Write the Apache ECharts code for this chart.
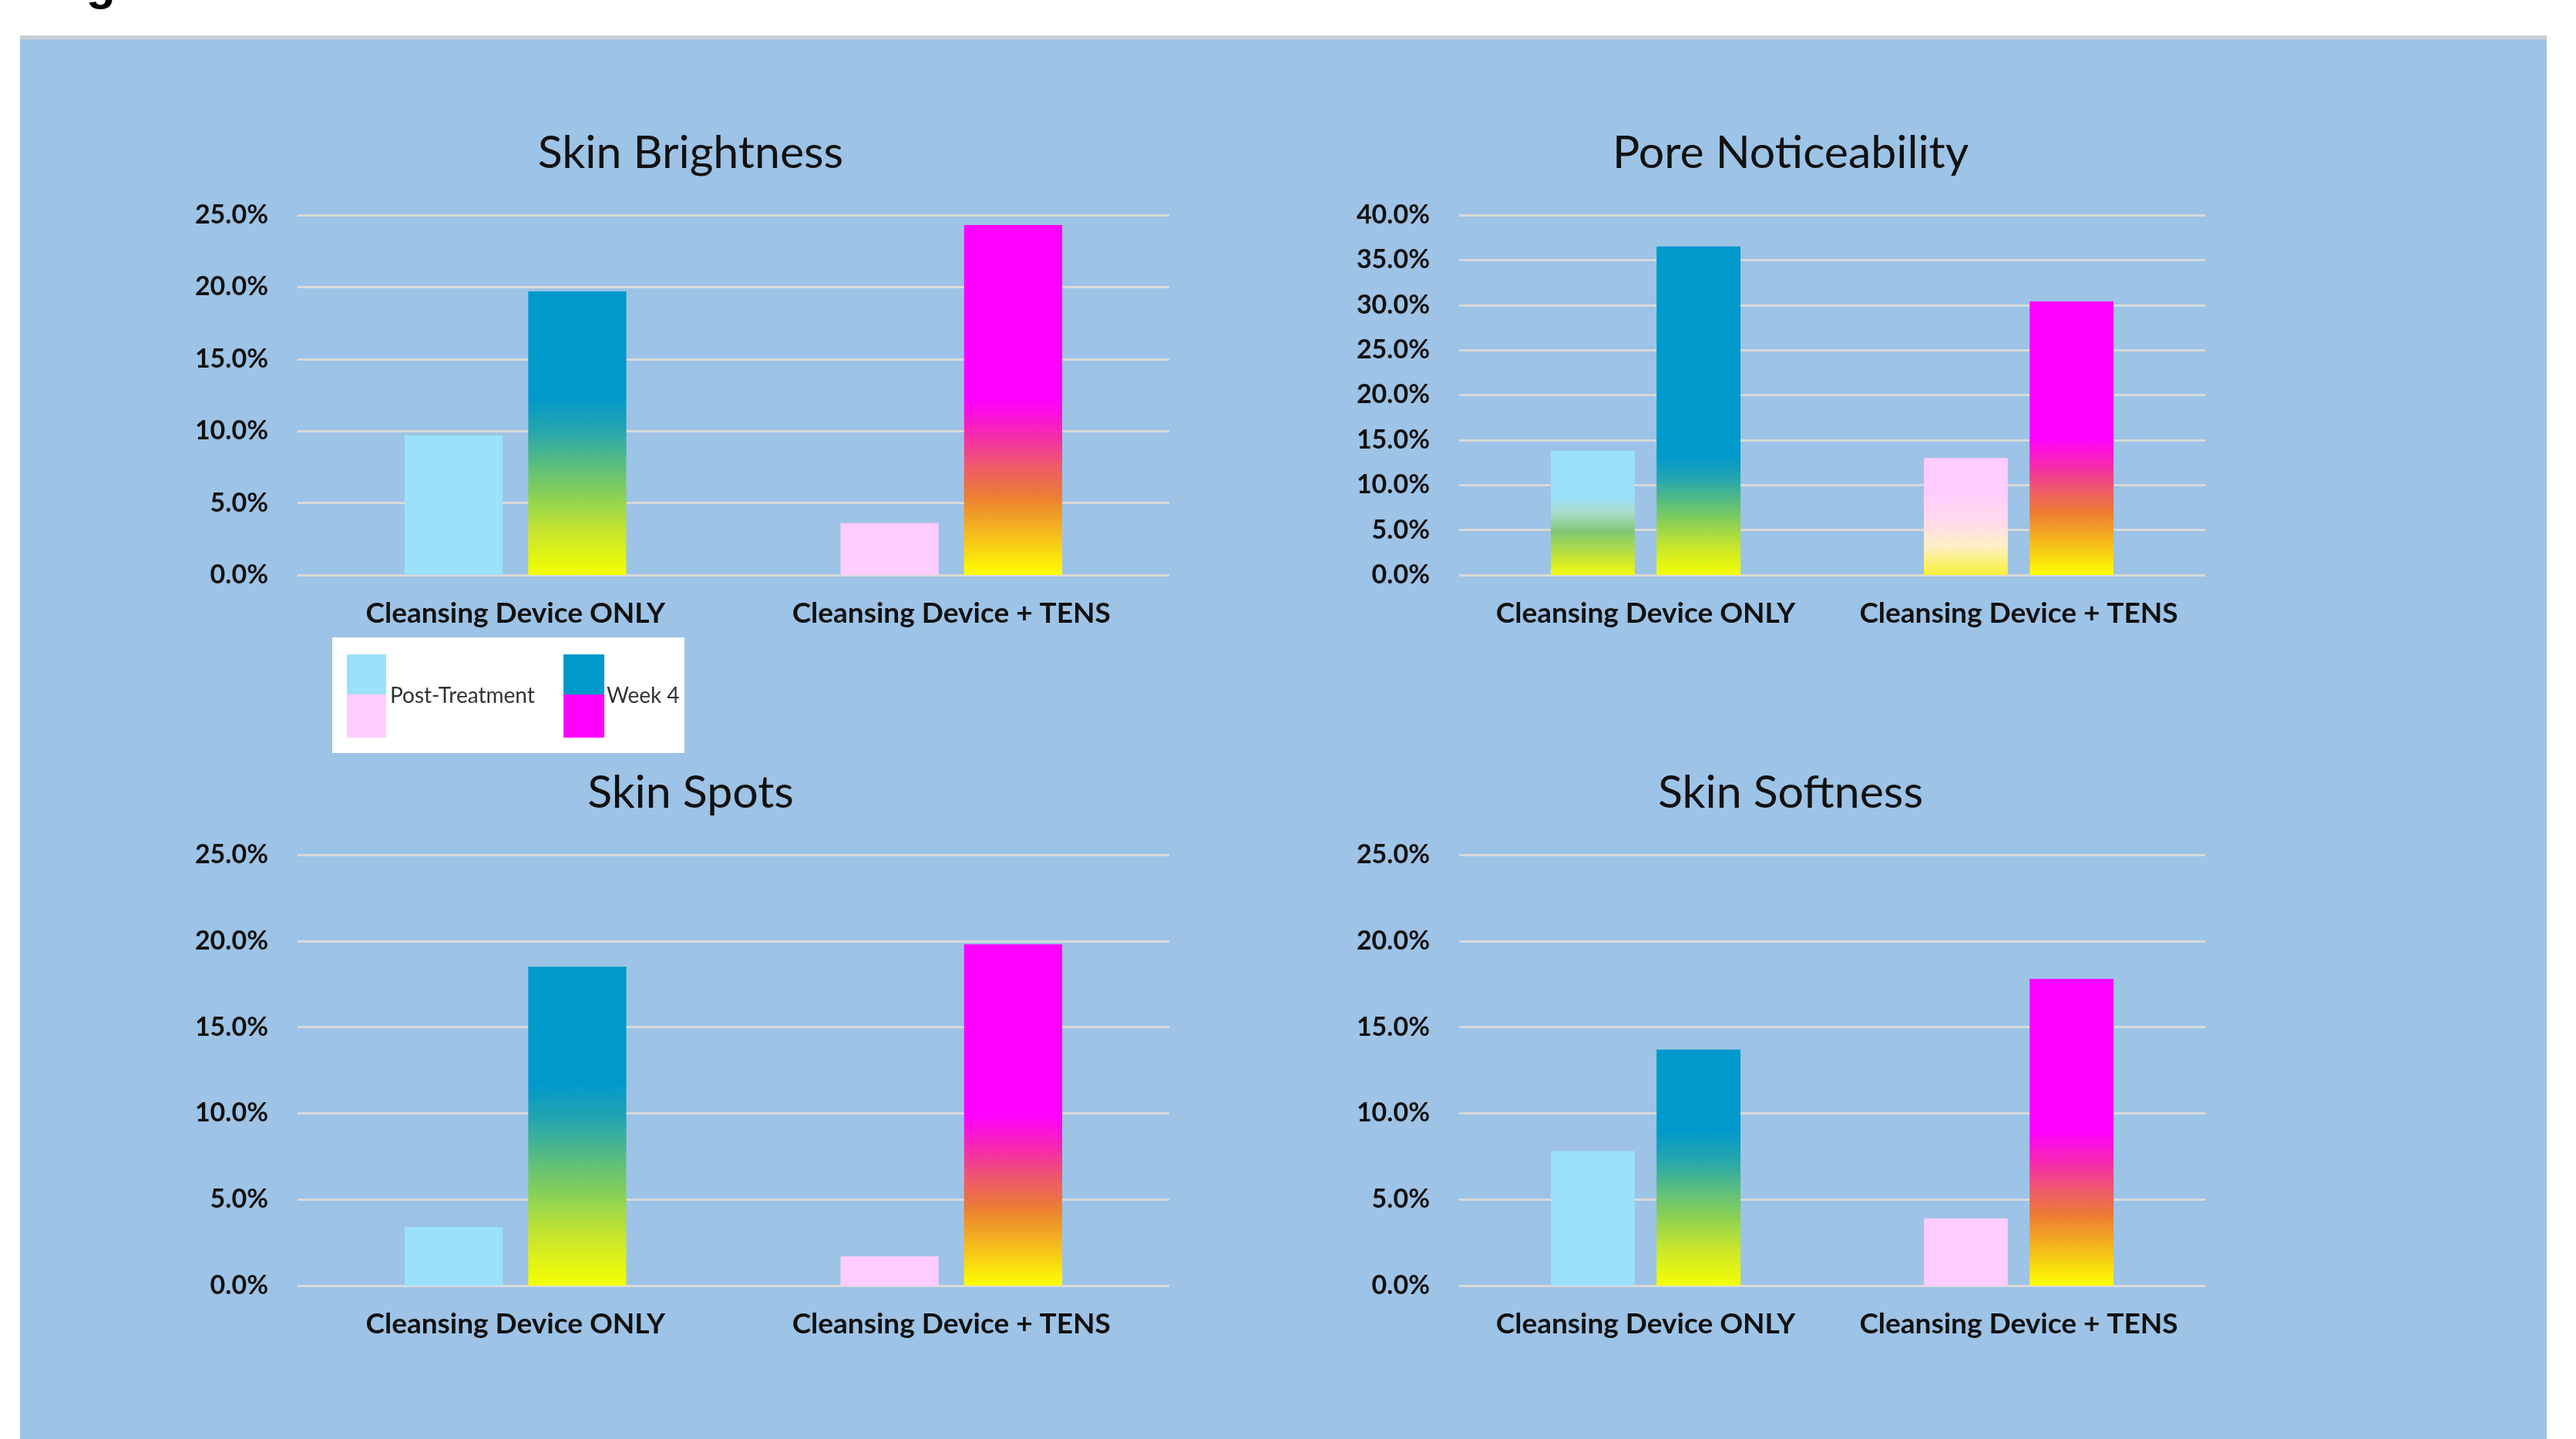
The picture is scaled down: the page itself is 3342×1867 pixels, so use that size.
<!DOCTYPE html>
<html>
<head>
<meta charset="utf-8">
<script src="https://cdn.jsdelivr.net/npm/echarts@6/dist/echarts.min.js"></script>
<style>
  html, body { margin: 0; padding: 0; background: #fff; }
  #chart { width: 3342px; height: 1867px; }
</style>
</head>
<body>
<div id="chart"></div>
<script>
// data (percent)
const categories = ['Cleansing Device ONLY', 'Cleansing Device + TENS'];
const titles = ['Skin Brightness', 'Pore Noticeability', 'Skin Spots', 'Skin Softness'];
const brightnessPost = [9.7, 3.6];
const brightnessWeek4 = [19.7, 24.3];
const poresPost = [13.8, 13.0];
const poresWeek4 = [36.5, 30.4];
const spotsPost = [3.4, 1.7];
const spotsWeek4 = [18.5, 19.8];
const softnessPost = [7.8, 3.9];
const softnessWeek4 = [13.7, 17.8];
const axisMax = [25, 40, 25, 25];

const font = 'Lato, "Open Sans", sans-serif';
const LIGHT_BLUE = '#9BE1FB';
const PINK = '#FFCCFF';
const BLUE = '#0099CC';
const MAGENTA = '#FF00FF';

function grad(stops) {
  return new echarts.graphic.LinearGradient(0, 0, 0, 1,
    stops.map(s => ({ offset: s[0], color: s[1] })));
}
// blue -> yellow fill; s = part of the bar (from top) that stays solid blue
function blueFill(s) {
  const tail = [[0.48, '#27A6AD'], [0.61, '#5EC07A'], [0.72, '#8ED252'], [0.84, '#C6E52E'], [1, '#F5FF00']];
  return grad([[0, BLUE], [s, BLUE]].concat(tail.map(t => [s + (t[0] - 0.35) / 0.65 * (1 - s), t[1]])));
}
const magentaFill = () => grad([[0, MAGENTA], [0.5, MAGENTA], [0.6, '#F52AAE'], [0.69, '#EE5A6A'],
  [0.77, '#EC7C35'], [0.87, '#F4B41E'], [1, '#FFFF00']]);
const lightBlueFill = () => grad([[0, LIGHT_BLUE], [0.37, LIGHT_BLUE], [0.5, '#A8DCC8'], [0.65, '#7EC874'],
  [0.82, '#B8DE40'], [1, '#F2FA10']]);
const pinkFill = () => grad([[0, PINK], [0.3, PINK], [0.57, '#FFDCE6'], [0.75, '#FFF0C8'], [1, '#F8F038']]);

const panels = [
  { post: brightnessPost, week4: brightnessWeek4, gradPost: false, blueSolid: 0.37 },
  { post: poresPost, week4: poresWeek4, gradPost: true, blueSolid: 0.64 },
  { post: spotsPost, week4: spotsWeek4, gradPost: false, blueSolid: 0.36 },
  { post: softnessPost, week4: softnessWeek4, gradPost: false, blueSolid: 0.34 }
];

const grids = [
  { left: 386, top: 279, width: 1131, height: 467 },
  { left: 1893, top: 279, width: 968, height: 467 },
  { left: 386, top: 1109, width: 1131, height: 559 },
  { left: 1893, top: 1109, width: 968, height: 559 }
];
const titleX = [891, 2318, 891, 2318];
const titleY = [164, 164, 994, 994];

const chart = echarts.init(document.getElementById('chart'));

const series = [];
panels.forEach((p, i) => {
  series.push({
    name: 'Post-Treatment', type: 'bar', xAxisIndex: i, yAxisIndex: i,
    barWidth: '22.5%', barGap: '26%',
    data: p.post.map((v, j) => ({
      value: v,
      itemStyle: { color: p.gradPost ? (j === 0 ? lightBlueFill() : pinkFill()) : (j === 0 ? LIGHT_BLUE : PINK) }
    }))
  });
  series.push({
    name: 'Week 4', type: 'bar', xAxisIndex: i, yAxisIndex: i,
    barWidth: '22.5%', barGap: '26%',
    data: p.week4.map((v, j) => ({
      value: v,
      itemStyle: { color: j === 0 ? blueFill(p.blueSolid) : magentaFill() }
    }))
  });
});

const option = {
  backgroundColor: '#fff',
  animation: false,
  title: titles.map((t, i) => ({
    text: t, left: titleX[i], top: titleY[i], textAlign: 'center',
    textStyle: { fontFamily: font, fontSize: 59, fontWeight: 'normal', color: '#111' }
  })),
  grid: grids,
  xAxis: grids.map((g, i) => ({
    type: 'category', gridIndex: i, data: categories,
    axisLine: { show: false }, axisTick: { show: false },
    axisLabel: { interval: 0, hideOverlap: false, fontFamily: font, fontSize: 37, fontWeight: 'bold',
      color: '#111', margin: 32 }
  })),
  yAxis: grids.map((g, i) => ({
    type: 'value', gridIndex: i, min: 0, max: axisMax[i], interval: 5,
    axisLine: { show: false }, axisTick: { show: false },
    axisLabel: { fontFamily: font, fontSize: 34, fontWeight: 'bold', color: '#111', margin: 38,
      formatter: v => v.toFixed(1) + '%' },
    splitLine: { lineStyle: { color: '#D9D9D9', width: 3 } }
  })),
  graphic: [
    { type: 'rect', z: -10, shape: { x: 26, y: 46, width: 3278, height: 6 }, style: { fill: '#C9CED4' } },
    { type: 'rect', z: -10, shape: { x: 26, y: 51, width: 3278, height: 1816 }, style: { fill: '#9DC3E6' } },
    { type: 'text', z: 10, x: 112, y: -18,
      style: { text: 'g', font: 'bold 62px "Liberation Sans", Arial, sans-serif', fill: '#000', verticalAlign: 'middle' } },
    // legend box
    { type: 'rect', z: 10, shape: { x: 431, y: 827, width: 457, height: 150 }, style: { fill: '#fff' } },
    { type: 'rect', z: 11, shape: { x: 450, y: 849, width: 51, height: 52 }, style: { fill: LIGHT_BLUE } },
    { type: 'rect', z: 11, shape: { x: 450, y: 901, width: 51, height: 56 }, style: { fill: PINK } },
    { type: 'text', z: 11, x: 506, y: 903,
      style: { text: 'Post-Treatment', font: '28px ' + font, fill: '#333', verticalAlign: 'middle' } },
    { type: 'rect', z: 11, shape: { x: 731, y: 849, width: 53, height: 52 }, style: { fill: BLUE } },
    { type: 'rect', z: 11, shape: { x: 731, y: 901, width: 53, height: 56 }, style: { fill: MAGENTA } },
    { type: 'text', z: 11, x: 787, y: 903,
      style: { text: 'Week 4', font: '28px ' + font, fill: '#333', verticalAlign: 'middle' } }
  ],
  series: series
};

chart.setOption(option);
</script>
</body>
</html>
